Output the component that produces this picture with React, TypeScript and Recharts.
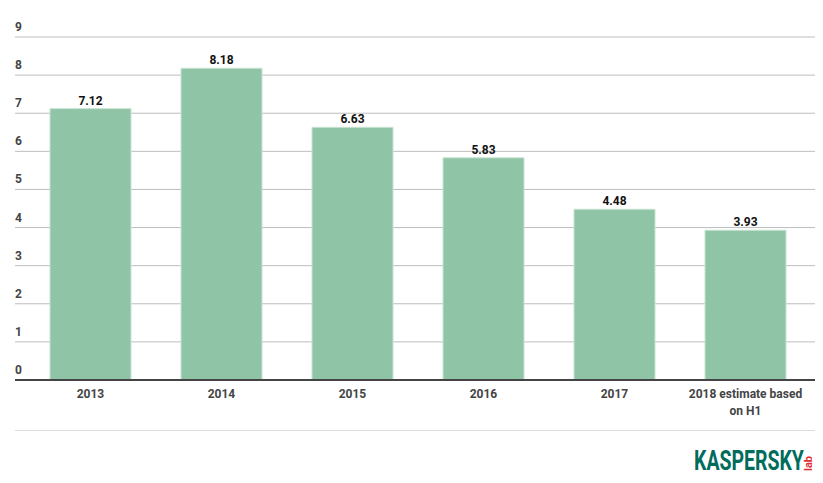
import React from 'react';
import { BarChart, Bar, XAxis, YAxis, CartesianGrid, LabelList } from 'recharts';

const years = ['2013', '2014', '2015', '2016', '2017', '2018 estimate based on H1'];
const yearLines = [['2013'], ['2014'], ['2015'], ['2016'], ['2017'], ['2018 estimate based', 'on H1']];
const values = [7.12, 8.18, 6.63, 5.83, 4.48, 3.93];
const yTicks = [0, 1, 2, 3, 4, 5, 6, 7, 8, 9];

const data = years.map((year, i) => ({ year, value: values[i] }));

const FONT = 'Roboto, "Noto Sans", sans-serif';

const YTick = (props: any) => {
  const { y, payload } = props;
  return (
    <text x={15} y={y - 6} textAnchor="start" fontSize={12} fontWeight={700} fill="#444" fontFamily={FONT}>
      {payload.value}
    </text>
  );
};

const XTick = (props: any) => {
  const { x, y, index } = props;
  const lines = yearLines[index] || [];
  return (
    <text x={x} y={y + 10} textAnchor="middle" fontSize={12} fontWeight={700} fill="#444" fontFamily={FONT}>
      {lines.map((l, i) => (
        <tspan key={i} x={x} dy={i === 0 ? 0 : 17}>{l}</tspan>
      ))}
    </text>
  );
};

// logo, squeezed vertically-stretched text so its natural width stays inside the page
const Logo = () => (
  <svg width={133} height={40} style={{ position: 'absolute', left: 690, top: 440 }}>
    <g transform="translate(4,30) scale(1,1.45)">
      <text x={0} y={0} fontSize={19.5} fontWeight={700} fill="#006d5c" fontFamily={FONT}>KASPERSKY</text>
    </g>
    <text transform="translate(122,31) rotate(-90)" fontSize={11} fontWeight={700} fill="#e0302f" fontFamily={FONT}>lab</text>
  </svg>
);

export default function App() {
  return (
    <div style={{ position: 'absolute', left: 0, top: 0, width: 823, height: 483, background: '#fff' }}>
      <BarChart
        width={823}
        height={483}
        data={data}
        margin={{ top: 37, right: 8, bottom: 73, left: 0 }}
        barSize={81}
      >
        <CartesianGrid vertical={false} stroke="#bdbdbd" strokeWidth={1} />
        <XAxis
          dataKey="year"
          height={30}
          padding={{ left: 10, right: 4 }}
          axisLine={{ stroke: '#444', strokeWidth: 2 }}
          tickLine={false}
          interval={0}
          tick={<XTick />}
        />
        <YAxis
          width={15}
          domain={[0, 9]}
          ticks={yTicks}
          axisLine={false}
          tickLine={false}
          tick={<YTick />}
        />
        <Bar dataKey="value" fill="#8fc4a7" stroke="#c8e3d2" strokeWidth={1} isAnimationActive={false}>
          <LabelList dataKey="value" position="top" offset={4} fontSize={12} fontWeight={700} fill="#111" fontFamily={FONT} />
        </Bar>
      </BarChart>
      <div style={{ position: 'absolute', left: 15, top: 430, width: 800, borderTop: '1px solid #dddddd' }} />
      <Logo />
    </div>
  );
}
